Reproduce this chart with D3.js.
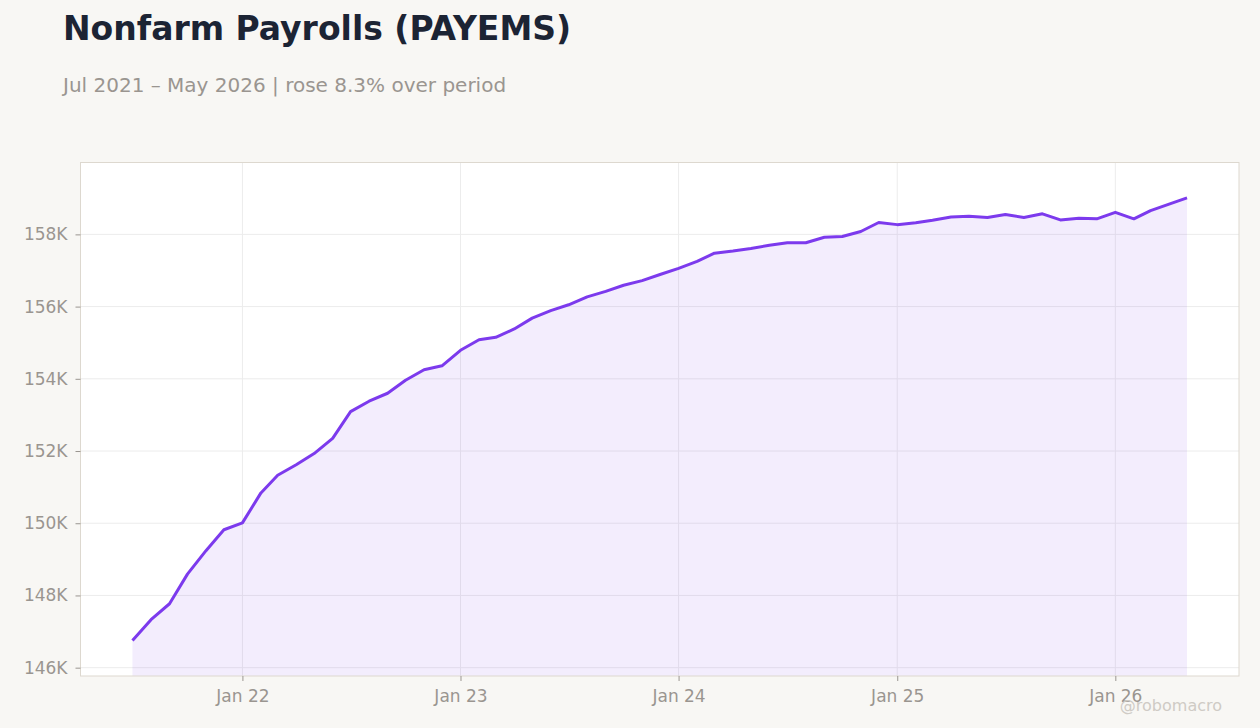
<!DOCTYPE html>
<html>
<head>
<meta charset="utf-8">
<script src="https://cdn.jsdelivr.net/npm/d3@7"></script>
<style>
  html, body { margin: 0; padding: 0; background: #f8f7f4; }
  body { width: 1260px; height: 728px; overflow: hidden; font-family: "DejaVu Sans", sans-serif; }
  .tick text { fill: #9a9590; }
</style>
</head>
<body>
<div id="chart"></div>
<script>
// monthly observations, thousands of jobs
const months = d3.timeMonths(new Date(2021, 6, 1), new Date(2026, 5, 1));
const payems = [
  146750, 147330, 147770, 148590, 149240, 149820,
  150010, 150840, 151330, 151620, 151930, 152350, 153090, 153380, 153600, 153960, 154250, 154360,
  154790, 155080, 155150, 155380, 155680, 155890, 156050, 156270, 156420, 156590, 156720, 156890,
  157060, 157250, 157480, 157540, 157610, 157700, 157770, 157770, 157920, 157940, 158080, 158330,
  158270, 158320, 158390, 158480, 158500, 158470, 158550, 158470, 158570, 158400, 158450, 158430,
  158610, 158430, 158660, 158840, 159010
];
const yTicks = [146000, 148000, 150000, 152000, 154000, 156000, 158000];
const xTicks = [new Date(2022, 0, 1), new Date(2023, 0, 1), new Date(2024, 0, 1), new Date(2025, 0, 1), new Date(2026, 0, 1)];

const data = months.map((d, i) => ({date: d, value: payems[i]}));

const W = 1260, H = 728;
const margin = {top: 162.5, right: 21, bottom: 52, left: 80.5};
const iw = W - margin.left - margin.right;
const ih = H - margin.top - margin.bottom;

const svg = d3.select("#chart").append("svg")
  .attr("width", W).attr("height", H);

svg.append("text")
  .attr("x", 63).attr("y", 40)
  .attr("font-size", 33).attr("font-weight", "bold")
  .attr("fill", "#1c2434")
  .text("Nonfarm Payrolls (PAYEMS)");

svg.append("text")
  .attr("x", 63).attr("y", 92)
  .attr("font-size", 20)
  .attr("fill", "#9a9590")
  .text("Jul 2021 \u2013 May 2026 | rose 8.3% over period");

const g = svg.append("g").attr("transform", `translate(${margin.left},${margin.top})`);

const pad = 87 * 24 * 3600 * 1000;
const ext = d3.extent(data, d => d.date);
const x = d3.scaleTime()
  .domain([new Date(+ext[0] - pad), new Date(+ext[1] + pad)])
  .range([0, iw]);

const vext = d3.extent(payems);
const vpad = (vext[1] - vext[0]) * 0.08;
const y = d3.scaleLinear()
  .domain([vext[0] - vpad, vext[1] + vpad])
  .range([ih, 0]);

g.append("rect")
  .attr("width", iw).attr("height", ih)
  .attr("fill", "#fff");

// grid
g.append("g").selectAll("line").data(yTicks).join("line")
  .attr("x1", 0).attr("x2", iw)
  .attr("y1", d => y(d)).attr("y2", d => y(d))
  .attr("stroke", "#ececec").attr("stroke-width", 1);
g.append("g").selectAll("line").data(xTicks).join("line")
  .attr("y1", 0).attr("y2", ih)
  .attr("x1", d => x(d)).attr("x2", d => x(d))
  .attr("stroke", "#ececec").attr("stroke-width", 1);

const area = d3.area()
  .x(d => x(d.date))
  .y0(ih)
  .y1(d => y(d.value));

const line = d3.line()
  .x(d => x(d.date))
  .y(d => y(d.value));

g.append("path").datum(data)
  .attr("d", area)
  .attr("fill", "#7c3aed").attr("fill-opacity", 0.09);

g.append("path").datum(data)
  .attr("d", line)
  .attr("fill", "none")
  .attr("stroke", "#7c3aed").attr("stroke-width", 3)
  .attr("stroke-linejoin", "round");

g.append("rect")
  .attr("width", iw).attr("height", ih)
  .attr("fill", "none").attr("stroke", "#ddd8cf");

const yAxis = g.append("g")
  .call(d3.axisLeft(y).tickValues(yTicks).tickSize(5).tickPadding(8)
    .tickFormat(d => d / 1000 + "K"));
const xAxis = g.append("g").attr("transform", `translate(0,${ih})`)
  .call(d3.axisBottom(x).tickValues(xTicks).tickSize(5).tickPadding(9)
    .tickFormat(d3.timeFormat("%b %y")));

[yAxis, xAxis].forEach(a => {
  a.select(".domain").remove();
  a.selectAll(".tick line").attr("stroke", "#9a9590");
  a.selectAll(".tick text").attr("font-size", 17).attr("font-family", "DejaVu Sans");
});

svg.append("text")
  .attr("x", 1222).attr("y", 711)
  .attr("text-anchor", "end")
  .attr("font-size", 16)
  .attr("fill", "#cfcbc5")
  .text("@robomacro");
</script>
</body>
</html>
